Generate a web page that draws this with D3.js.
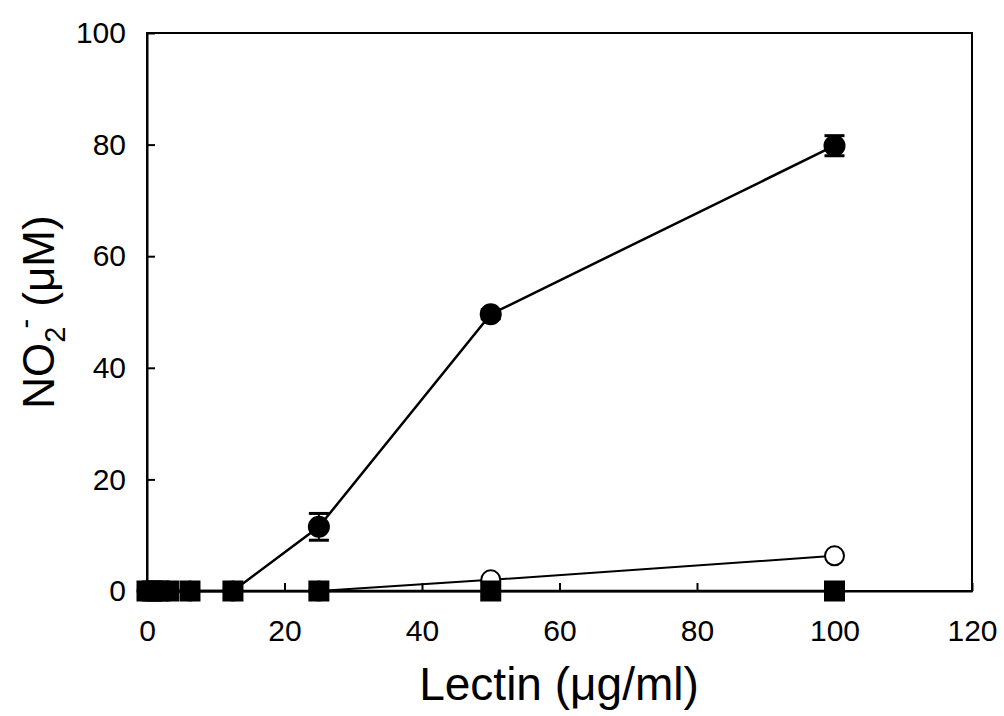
<!DOCTYPE html>
<html><head><meta charset="utf-8">
<script src="https://cdnjs.cloudflare.com/ajax/libs/d3/7.8.5/d3.min.js"></script>
<style>body{margin:0;background:#fff}svg{display:block}text{font-family:"Liberation Sans",Arial,sans-serif;fill:#000}</style>
</head><body><svg id="c" width="1004" height="716"></svg>
<script>
const conc = [0, 0.78, 1.56, 3.125, 6.25, 12.5, 25, 50, 100];
const filledCircle = [0, 0, 0, 0, 0, 0, 11.5, 49.6, 79.8];
const filledCircleErr = [0, 0, 0, 0, 0, 0, 2.4, 0.8, 1.8];
const openCircle = [0, 0, 0, 0, 0, 0, 0, 2.0, 6.3];
const filledSquare = [0, 0, 0, 0, 0, 0, 0, 0, 0];
const xTicks = [0, 20, 40, 60, 80, 100, 120];
const yTicks = [0, 20, 40, 60, 80, 100];

const svg = d3.select("#c");
const L = 147, R = 972, T = 33, B = 591;
const x = d3.scaleLinear().domain([0, 120]).range([L, R]);
const y = d3.scaleLinear().domain([0, 100]).range([B, T]);

// frame
svg.append("rect").attr("x", L).attr("y", T).attr("width", R - L).attr("height", B - T)
  .attr("fill", "none").attr("stroke", "#000").attr("stroke-width", 2);

// axes
const xa = svg.append("g").attr("transform", `translate(0,${B})`)
  .call(d3.axisBottom(x).tickValues(xTicks).tickSizeInner(-8).tickSizeOuter(0).tickPadding(29));
const ya = svg.append("g").attr("transform", `translate(${L},0)`)
  .call(d3.axisLeft(y).tickValues(yTicks).tickSizeInner(-8).tickSizeOuter(0).tickPadding(21));
[xa, ya].forEach(g => {
  g.attr("font-size", 30).attr("font-family", "Liberation Sans, Arial, sans-serif");
  g.select(".domain").attr("stroke", "#000").attr("stroke-width", 2);
  g.selectAll(".tick line").attr("stroke", "#000").attr("stroke-width", 2);
  g.selectAll(".tick text").attr("fill", "#000");
});

// titles
svg.append("text").attr("x", 559).attr("y", 700).attr("text-anchor", "middle")
  .attr("font-size", 46).text("Lectin (\u03bcg/ml)");
const yt = svg.append("text").attr("transform", "translate(54,312) rotate(-90)")
  .attr("text-anchor", "middle").attr("font-size", 44);
yt.append("tspan").text("NO");
yt.append("tspan").attr("font-size", 29).attr("dy", 11).text("2");
yt.append("tspan").attr("font-size", 29).attr("dy", -30).attr("dx", -2).text("-");
yt.append("tspan").attr("dy", 19).text(" (\u03bcM)");

const line = d3.line().x(d => x(d[0])).y(d => y(d[1]));
const pts = arr => conc.map((c, i) => [c, arr[i]]);

// open circle series
svg.append("path").datum(pts(openCircle)).attr("d", line).attr("fill", "none")
  .attr("stroke", "#000").attr("stroke-width", 2);
svg.selectAll(".oc").data(pts(openCircle)).enter().append("circle")
  .attr("cx", d => x(d[0])).attr("cy", d => y(d[1])).attr("r", 9.5)
  .attr("fill", "#fff").attr("stroke", "#000").attr("stroke-width", 2);

// filled square series
svg.append("path").datum(pts(filledSquare)).attr("d", line).attr("fill", "none")
  .attr("stroke", "#000").attr("stroke-width", 2.5);
svg.selectAll(".sq").data(pts(filledSquare)).enter().append("rect")
  .attr("x", d => x(d[0]) - 10.5).attr("y", d => y(d[1]) - 10.5).attr("width", 21).attr("height", 21)
  .attr("fill", "#000");

// filled circle series
svg.append("path").datum(pts(filledCircle)).attr("d", line).attr("fill", "none")
  .attr("stroke", "#000").attr("stroke-width", 2.5);
const eb = conc.map((c, i) => ({c, v: filledCircle[i], e: filledCircleErr[i]})).filter(d => d.e > 0);
eb.forEach(d => {
  const g = svg.append("g").attr("stroke", "#000").attr("stroke-width", 2);
  g.append("line").attr("x1", x(d.c)).attr("x2", x(d.c)).attr("y1", y(d.v + d.e)).attr("y2", y(d.v - d.e));
  g.append("line").attr("x1", x(d.c) - 10).attr("x2", x(d.c) + 10).attr("y1", y(d.v + d.e)).attr("y2", y(d.v + d.e)).attr("stroke-width", 3);
  g.append("line").attr("x1", x(d.c) - 10).attr("x2", x(d.c) + 10).attr("y1", y(d.v - d.e)).attr("y2", y(d.v - d.e)).attr("stroke-width", 3);
});
svg.selectAll(".fc").data(pts(filledCircle).filter(d => d[1] > 0)).enter().append("circle")
  .attr("cx", d => x(d[0])).attr("cy", d => y(d[1])).attr("r", 11).attr("fill", "#000");
</script></body></html>
